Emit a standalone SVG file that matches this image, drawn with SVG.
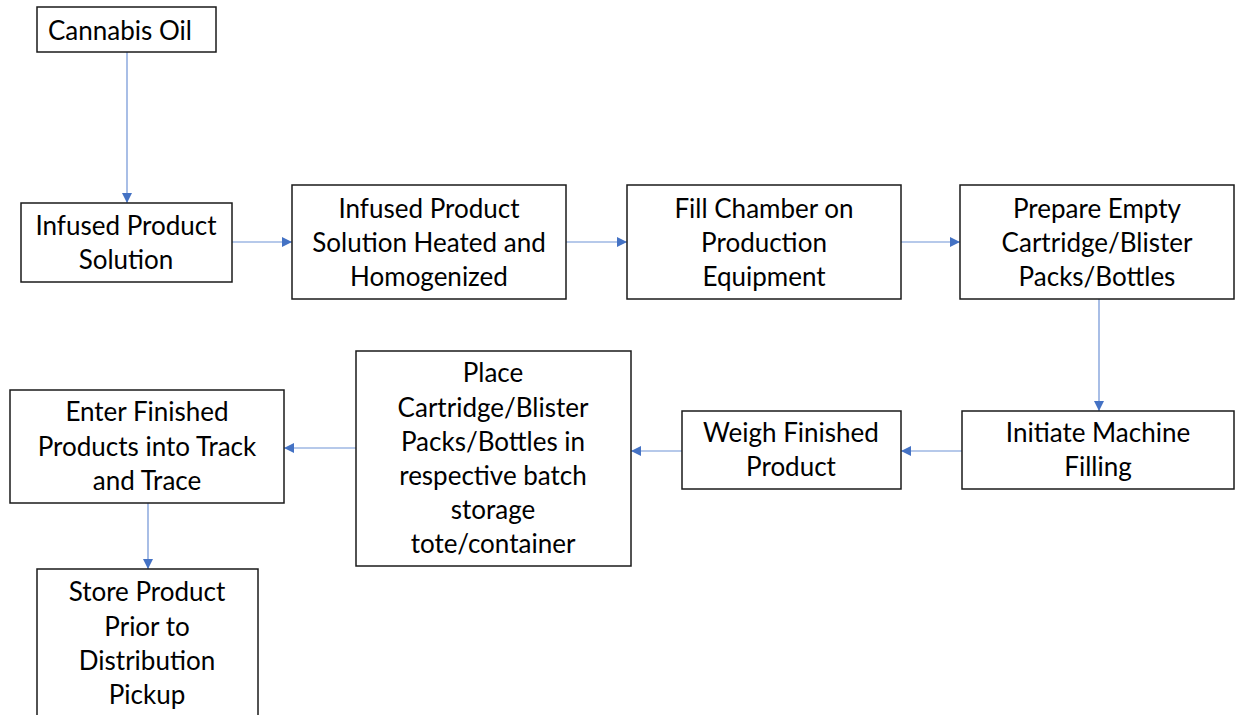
<svg xmlns="http://www.w3.org/2000/svg" width="1239" height="715" viewBox="0 0 1239 715">
<defs>
<marker id="ah" viewBox="0 0 10 10" refX="10" refY="5" markerWidth="10" markerHeight="10" markerUnits="userSpaceOnUse" orient="auto">
<path d="M0,0 L10,5 L0,10 z" fill="#4472C4"/>
</marker>
</defs>
<style>
.box{fill:#fff;stroke:#1a1a1a;stroke-width:1.5}
.t{font-family:Lato,"Noto Sans",sans-serif;font-size:26px;fill:#000;text-anchor:middle}
.c{stroke:#6f93d6;stroke-width:1.2;fill:none;marker-end:url(#ah)}
</style>
<rect width="1239" height="715" fill="#fff"/>
<g id="connectors">
<line class="c" x1="127" y1="52" x2="127" y2="203"/>
<line class="c" x1="232" y1="242" x2="292" y2="242"/>
<line class="c" x1="566" y1="242" x2="627" y2="242"/>
<line class="c" x1="901" y1="242" x2="960" y2="242"/>
<line class="c" x1="1099" y1="299" x2="1099" y2="411"/>
<line class="c" x1="962" y1="451" x2="901" y2="451"/>
<line class="c" x1="682" y1="451" x2="631" y2="451"/>
<line class="c" x1="356" y1="448" x2="284" y2="448"/>
<line class="c" x1="148" y1="503" x2="148" y2="569"/>
</g>
<g id="n1"><rect class="box" x="37" y="7" width="179" height="45"/><text class="t" x="48" y="40" style="text-anchor:start">Cannabis Oil</text></g>
<g id="n2"><rect class="box" x="21" y="203" width="211" height="79"/><text class="t" x="126" y="235">Infused Product</text><text class="t" x="126" y="269">Solution</text></g>
<g id="n3"><rect class="box" x="292" y="185" width="274" height="114"/><text class="t" x="429" y="218">Infused Product</text><text class="t" x="429" y="252">Solution Heated and</text><text class="t" x="429" y="286">Homogenized</text></g>
<g id="n4"><rect class="box" x="627" y="185" width="274" height="114"/><text class="t" x="764" y="218">Fill Chamber on</text><text class="t" x="764" y="252">Production</text><text class="t" x="764" y="286">Equipment</text></g>
<g id="n5"><rect class="box" x="960" y="185" width="274" height="114"/><text class="t" x="1097" y="218">Prepare Empty</text><text class="t" x="1097" y="252">Cartridge/Blister</text><text class="t" x="1097" y="286">Packs/Bottles</text></g>
<g id="n6"><rect class="box" x="962" y="411" width="272" height="78"/><text class="t" x="1098" y="442">Initiate Machine</text><text class="t" x="1098" y="476">Filling</text></g>
<g id="n7"><rect class="box" x="682" y="411" width="219" height="78"/><text class="t" x="791" y="442">Weigh Finished</text><text class="t" x="791" y="476">Product</text></g>
<g id="n8"><rect class="box" x="356" y="351" width="275" height="215"/><text class="t" x="493" y="382">Place</text><text class="t" x="493" y="417">Cartridge/Blister</text><text class="t" x="493" y="451">Packs/Bottles in</text><text class="t" x="493" y="485">respective batch</text><text class="t" x="493" y="519">storage</text><text class="t" x="493" y="553">tote/container</text></g>
<g id="n9"><rect class="box" x="10" y="390" width="274" height="113"/><text class="t" x="147" y="421">Enter Finished</text><text class="t" x="147" y="456">Products into Track</text><text class="t" x="147" y="490">and Trace</text></g>
<g id="n10"><rect class="box" x="37" y="569" width="221" height="160"/><text class="t" x="147" y="601">Store Product</text><text class="t" x="147" y="636">Prior to</text><text class="t" x="147" y="670">Distribution</text><text class="t" x="147" y="704">Pickup</text></g>
</svg>
